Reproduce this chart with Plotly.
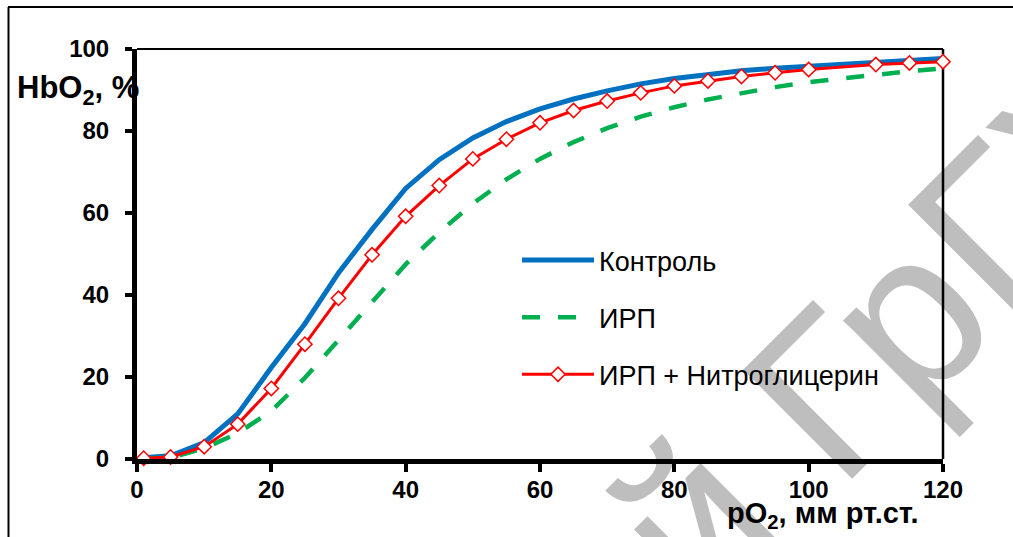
import plotly.graph_objects as go

# ---- data ----
po2 = [1, 5, 10, 15, 20, 25, 30, 35, 40, 45, 50, 55, 60, 65, 70, 75, 80, 85, 90, 95, 100, 110, 115, 120]
control = [0.3, 0.8, 4.0, 11.0, 22.3, 33.0, 45.4, 56.0, 66.0, 73.0, 78.3, 82.3, 85.4, 87.8, 89.8, 91.5,
           92.8, 93.9, 94.7, 95.3, 95.8, 96.9, 97.3, 97.7]
irp = [0.1, 0.3, 2.6, 6.3, 11.7, 19.8, 29.0, 38.3, 47.5, 55.3, 62.3, 68.2, 73.2, 77.3, 80.7, 83.5,
       85.8, 87.7, 89.3, 90.7, 91.9, 93.8, 94.6, 95.3]
irp_ntg = [0.2, 0.5, 3.0, 8.5, 17.2, 28.0, 39.2, 49.8, 59.2, 66.7, 73.2, 78.0, 82.0, 85.0, 87.3, 89.3,
           91.0, 92.2, 93.3, 94.2, 95.0, 96.2, 96.6, 96.9]

names = ["Контроль", "ИРП", "ИРП + Нитроглицерин"]
x_ticks = [0, 20, 40, 60, 80, 100, 120]
y_ticks = [0, 20, 40, 60, 80, 100]
y_title = "<b>HbO<sub>2</sub>, %</b>"
x_title = "<b>pO<sub>2</sub>, мм рт.ст.</b>"
watermark = "Репозиторий ГрГУ"

FONT = "Arial, Liberation Sans, sans-serif"

fig = go.Figure()
fig.add_trace(go.Scatter(
    x=po2, y=control, name=names[0], mode="lines", legendgroup="a",
    line=dict(color="#0070C0", width=5), cliponaxis=False))
fig.add_trace(go.Scatter(
    x=po2, y=irp, name=names[1], mode="lines", legendgroup="b",
    line=dict(color="#00B050", width=4.5, dash="18px,18px"), cliponaxis=False))
fig.add_trace(go.Scatter(
    x=po2, y=irp_ntg, name=names[2], mode="lines+markers", legendgroup="c",
    line=dict(color="#FF0000", width=3),
    marker=dict(symbol="diamond", size=11, color="white", line=dict(color="#FF0000", width=1.5)),
    cliponaxis=False))

L, R, T, B = 137, 70, 49, 78
W, H = 1013, 537
pw, ph = W - L - R, H - T - B

def px(xp):
    return (xp - L) / pw

def py(yp):
    return (H - B - yp) / ph

shapes = [
    dict(type="rect", xref="paper", yref="paper", layer="below",
         x0=px(440), x1=px(462), y0=py(730), y1=py(750),
         line=dict(width=0, color="rgba(0,0,0,0)"),
         label=dict(text=watermark, textangle=-45, textposition="middle center",
                    font=dict(family=FONT, size=224, color="#BEBEBE"))),
    dict(type="line", xref="paper", yref="paper", layer="below",
         x0=px(8), x1=px(1100), y0=py(7), y1=py(7), line=dict(color="black", width=2)),
    dict(type="line", xref="paper", yref="paper", layer="below",
         x0=px(8.5), x1=px(8.5), y0=py(7), y1=py(600), line=dict(color="black", width=2)),
    dict(type="line", xref="paper", yref="paper", layer="below",
         x0=0, x1=1, y0=1, y1=1, line=dict(color="black", width=2)),
    dict(type="line", xref="paper", yref="paper", layer="below",
         x0=1, x1=1, y0=0, y1=1, line=dict(color="black", width=2.5)),
]

annotations = [
    dict(text=y_title, xref="paper", yref="paper", x=px(15), y=py(90),
         xanchor="left", yanchor="middle", showarrow=False,
         font=dict(family=FONT, size=31, color="black")),
    dict(text=x_title, xref="paper", yref="paper", x=px(823), y=py(515),
         xanchor="center", yanchor="middle", showarrow=False,
         font=dict(family=FONT, size=29, color="black")),
]

fig.update_layout(
    width=W, height=H,
    margin=dict(l=L, r=R, t=T, b=B),
    paper_bgcolor="white", plot_bgcolor="rgba(0,0,0,0)",
    font=dict(family=FONT, color="black"),
    showlegend=True,
    legend=dict(x=px(517), y=py(236), xanchor="left", yanchor="top",
                font=dict(family=FONT, size=27, color="black"),
                itemwidth=72,
                bgcolor="rgba(0,0,0,0)", traceorder="grouped", tracegroupgap=19),
    shapes=shapes,
    annotations=annotations,
)
fig.update_xaxes(
    range=[0, 120], tickvals=x_ticks, showgrid=False, zeroline=False,
    showline=True, linecolor="black", linewidth=5,
    ticks="outside", ticklen=8, tickwidth=4, tickcolor="black",
    tickfont=dict(family=FONT, size=24, color="black", weight="bold"),
    ticklabelstandoff=-3)
fig.update_yaxes(
    range=[0, 100], tickvals=y_ticks, showgrid=False, zeroline=False,
    showline=True, linecolor="black", linewidth=5,
    ticks="outside", ticklen=7, tickwidth=4, tickcolor="black",
    tickfont=dict(family=FONT, size=24, color="black", weight="bold"),
    ticklabelstandoff=11)

fig.write_html("out.html", config={"displayModeBar": False},
               post_script="document.body.style.margin='0';document.body.style.overflow='hidden';")
